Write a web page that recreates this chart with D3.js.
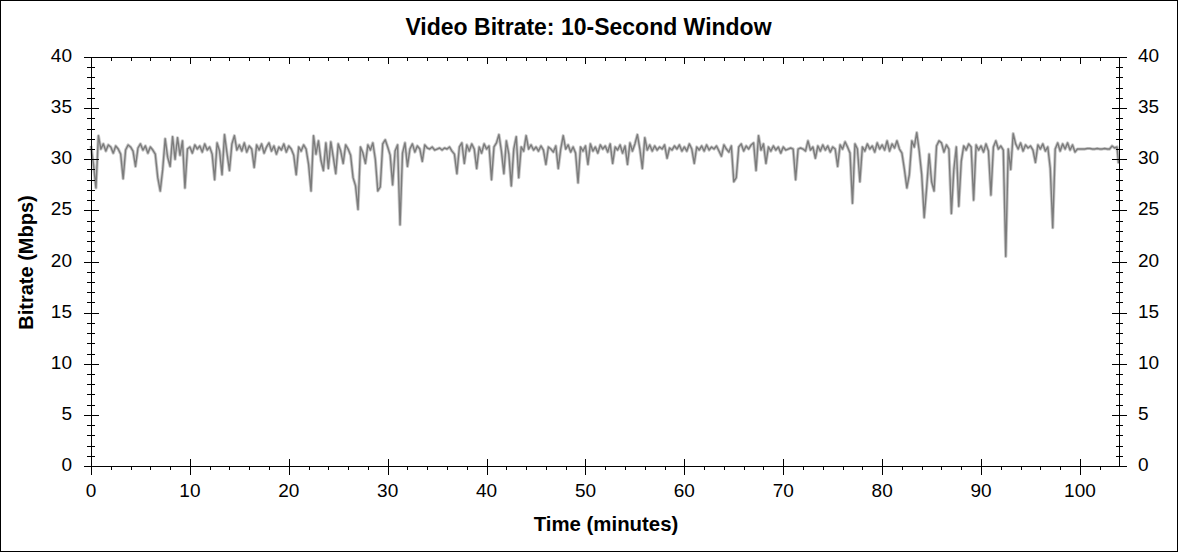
<!DOCTYPE html>
<html>
<head>
<meta charset="utf-8">
<script src="https://cdn.jsdelivr.net/npm/d3@7"></script>
<style>
  html, body { margin: 0; padding: 0; background: #fff; }
  svg { display: block; }
  text { font-family: "Liberation Sans", Arial, sans-serif; fill: #000; }
</style>
</head>
<body>
<svg id="chart" width="1178" height="552"></svg>
<script>
// ---- data ----
const chartTitle = "Video Bitrate: 10-Second Window";
const xLabel = "Time (minutes)";
const yLabel = "Bitrate (Mbps)";
const xTicks = [0, 10, 20, 30, 40, 50, 60, 70, 80, 90, 100];
const yTicks = [0, 5, 10, 15, 20, 25, 30, 35, 40];
const xMax = 103.95;
const yMax = 40;
const sampleStep = 0.25; // minutes between samples
// bitrate (Mbps), 4 samples per minute, minute 0 .. 103
const bitrate = [
  31.3, 29.5, 27.2, 32.3,
  31.0, 31.5, 30.8, 31.4,
  31.2, 30.6, 31.3, 31.0,
  30.5, 28.1, 30.9, 31.4,
  31.2, 30.8, 29.3, 31.1,
  31.5, 30.9, 31.3, 30.6,
  31.2, 30.9, 30.5, 28.2,
  26.9, 29.0, 32.0, 30.2,
  29.3, 32.2, 30.0, 32.1,
  30.4, 31.8, 27.2, 31.0,
  31.2, 30.6, 31.4, 31.0,
  31.3, 30.7, 31.5, 30.9,
  31.2, 30.5, 28.0, 31.6,
  30.8, 28.5, 32.4, 30.6,
  28.9, 31.5, 32.3, 30.9,
  31.4, 30.8, 31.6, 30.7,
  31.3, 31.0, 29.2, 31.4,
  30.9, 31.5, 30.6, 31.2,
  31.6, 30.8, 31.3, 30.5,
  31.2, 30.9, 31.5, 30.7,
  31.3, 31.0, 30.4, 28.5,
  31.2, 30.8, 31.4, 31.0,
  29.5, 26.9, 32.3, 30.5,
  31.8, 29.9, 28.9, 31.6,
  29.1, 31.7, 30.2, 28.6,
  31.5, 30.8, 29.6, 31.4,
  31.0, 30.4, 28.2, 27.4,
  25.1, 31.2, 30.6, 29.6,
  31.4, 30.9, 31.6, 30.0,
  26.9, 27.3, 31.5, 31.9,
  31.2, 30.4, 27.5, 30.8,
  31.4, 23.6, 30.6, 31.6,
  29.3, 31.0, 31.5, 30.7,
  31.3, 31.0, 29.8, 31.4,
  31.1, 31.0, 31.2, 30.9,
  31.0, 31.1, 30.9, 31.1,
  31.0, 31.2, 30.8, 30.5,
  28.6, 31.2, 31.6, 29.6,
  31.4, 30.8, 31.5, 31.0,
  29.1, 31.2, 30.6, 31.5,
  31.0, 31.3, 28.0, 31.2,
  31.6, 32.4, 30.8, 28.6,
  31.8, 30.5, 27.4, 31.0,
  32.2, 28.2, 31.2, 30.8,
  32.3, 31.0, 31.4, 30.9,
  31.2, 30.8, 31.3, 30.9,
  29.5, 31.2, 31.0, 30.7,
  31.3, 29.1, 31.0, 32.3,
  31.0, 31.4, 30.7, 31.2,
  30.6, 27.7, 31.2, 30.8,
  31.3, 29.5, 31.5, 30.8,
  31.2, 30.6, 31.4, 31.0,
  31.3, 30.7, 31.5, 29.6,
  31.2, 30.9, 31.4, 30.6,
  31.3, 29.5, 31.6, 30.8,
  31.5, 32.4, 31.0, 29.1,
  32.1, 30.9, 31.4, 30.8,
  31.3, 30.9, 31.2, 31.0,
  31.4, 30.1, 31.1, 30.9,
  31.3, 31.0, 31.4, 30.8,
  31.2, 30.8, 31.5, 31.0,
  29.6, 31.2, 30.9, 31.3,
  30.8, 31.4, 30.9, 31.2,
  31.0, 31.3, 30.8, 30.3,
  31.4, 31.0, 30.7, 31.3,
  27.8, 28.2, 31.2, 31.5,
  30.8, 31.3, 31.0, 31.4,
  31.6, 28.9, 32.3, 30.9,
  31.5, 29.6, 31.2, 30.8,
  31.3, 30.9, 31.2, 30.6,
  31.2, 30.9, 31.0, 31.1,
  31.0, 28.0, 31.0, 31.1,
  31.0, 30.8, 31.8, 30.9,
  31.2, 30.1, 31.3, 30.8,
  31.4, 30.9, 31.3, 30.7,
  31.2, 31.0, 29.3, 31.4,
  31.0, 31.7, 31.2, 30.6,
  25.7, 31.5, 31.0, 27.8,
  31.2, 30.8, 31.5, 31.0,
  31.3, 30.7, 31.6, 31.0,
  31.4, 30.9, 31.8, 30.8,
  31.5, 31.1, 31.8, 31.0,
  30.6, 29.0, 27.2, 28.5,
  31.8, 31.2, 32.6, 30.8,
  28.5, 24.3, 27.2, 30.5,
  27.8, 26.9, 31.3, 31.8,
  31.6, 30.7, 31.4, 31.0,
  24.7, 29.0, 31.2, 25.4,
  29.8, 31.3, 30.9, 31.5,
  31.2, 26.0, 31.4, 30.9,
  31.3, 30.7, 31.5, 30.8,
  26.5, 31.2, 31.8, 31.0,
  31.3, 30.9, 20.5, 31.0,
  29.0, 32.5, 31.5, 31.0,
  31.6, 30.8, 31.4, 31.1,
  31.3, 30.9, 29.7, 31.4,
  31.0, 31.5, 30.8, 31.2,
  29.1, 23.3, 31.0, 31.6,
  30.8, 31.5, 31.0, 31.6,
  30.9, 31.4, 30.7, 31.0,
  31.0, 31.0, 31.0, 31.05,
  31.05, 31.0, 31.0, 31.05,
  31.0, 31.0, 31.05, 31.0,
  31.0, 31.3, 31.1, 31.2
];
const tailTime = 103.9;
const tailValue = 29.6;

(function () {
  const points = bitrate.map((v, i) => ({ t: i * sampleStep, v }));
  points.push({ t: tailTime, v: tailValue });

  const W = 1178, H = 552;
  const pL = 91, pR = 1119, pT = 57, pB = 466;
  const svg = d3.select("#chart");

  svg.append("rect").attr("x", 0.5).attr("y", 0.5).attr("width", W - 1).attr("height", H - 1)
    .attr("fill", "#fff").attr("stroke", "#000").attr("stroke-width", 1);

  const x = d3.scaleLinear().domain([0, xMax]).range([pL, pR]);
  const y = d3.scaleLinear().domain([0, yMax]).range([pB, pT]);

  const line = d3.line().x(d => x(d.t)).y(d => y(d.v));
  const g = svg.append("g");
  g.append("path").datum(points).attr("d", line)
    .attr("fill", "none").attr("stroke", "#c8c8c8").attr("stroke-width", 3.2).attr("stroke-linejoin", "round");
  g.append("path").datum(points).attr("d", line)
    .attr("fill", "none").attr("stroke", "#7c7c7c").attr("stroke-width", 1.4).attr("stroke-linejoin", "round");

  const ax = svg.append("g").attr("stroke", "#000").attr("stroke-width", 1).attr("shape-rendering", "crispEdges");
  const xMinor = d3.range(0, xMax, 2).filter(v => v % 10 !== 0);
  const yMinor = d3.range(0, yMax + 0.01, 1).filter(v => v % 5 !== 0);

  ax.append("line").attr("x1", pL).attr("x2", pR).attr("y1", pB + 0.5).attr("y2", pB + 0.5);
  ax.append("line").attr("x1", pL).attr("x2", pR).attr("y1", pT + 0.5).attr("y2", pT + 0.5);
  ax.append("line").attr("x1", pL + 0.5).attr("x2", pL + 0.5).attr("y1", pT).attr("y2", pB);
  ax.append("line").attr("x1", pR + 0.5).attr("x2", pR + 0.5).attr("y1", pT).attr("y2", pB + 1);

  const px = v => Math.round(x(v)) + 0.5;
  const py = v => Math.round(y(v)) + 0.5;

  xTicks.forEach(v => {
    ax.append("line").attr("x1", px(v)).attr("x2", px(v)).attr("y1", pB - 7).attr("y2", pB + 9);
    ax.append("line").attr("x1", px(v)).attr("x2", px(v)).attr("y1", pT).attr("y2", pT + 7);
  });
  xMinor.forEach(v => {
    ax.append("line").attr("x1", px(v)).attr("x2", px(v)).attr("y1", pB).attr("y2", pB + 4);
    ax.append("line").attr("x1", px(v)).attr("x2", px(v)).attr("y1", pT).attr("y2", pT + 4);
  });
  yTicks.forEach(v => {
    ax.append("line").attr("x1", pL - 7).attr("x2", pL + 8).attr("y1", py(v)).attr("y2", py(v));
    ax.append("line").attr("x1", pR - 7).attr("x2", pR + 8).attr("y1", py(v)).attr("y2", py(v));
  });
  yMinor.forEach(v => {
    ax.append("line").attr("x1", pL - 4).attr("x2", pL + 4).attr("y1", py(v)).attr("y2", py(v));
    ax.append("line").attr("x1", pR - 3).attr("x2", pR + 4).attr("y1", py(v)).attr("y2", py(v));
  });

  const lab = svg.append("g").style("font-size", "19px");
  xTicks.forEach(v => {
    lab.append("text").attr("x", x(v)).attr("y", pB + 31).attr("text-anchor", "middle").text(v);
  });
  yTicks.forEach(v => {
    lab.append("text").attr("x", 72).attr("y", y(v) + 5).attr("text-anchor", "end").text(v);
    lab.append("text").attr("x", 1138).attr("y", y(v) + 5).attr("text-anchor", "start").text(v);
  });

  svg.append("text").attr("x", 588.5).attr("y", 35).attr("text-anchor", "middle")
    .style("font-size", "23px").style("font-weight", "bold").text(chartTitle);
  svg.append("text").attr("x", 606).attr("y", 531).attr("text-anchor", "middle")
    .style("font-size", "20.4px").style("font-weight", "bold").text(xLabel);
  svg.append("text").attr("transform", `translate(33, 262.5) rotate(-90)`)
    .attr("text-anchor", "middle").style("font-size", "20px").style("font-weight", "bold").text(yLabel);
})();
</script>
</body>
</html>
